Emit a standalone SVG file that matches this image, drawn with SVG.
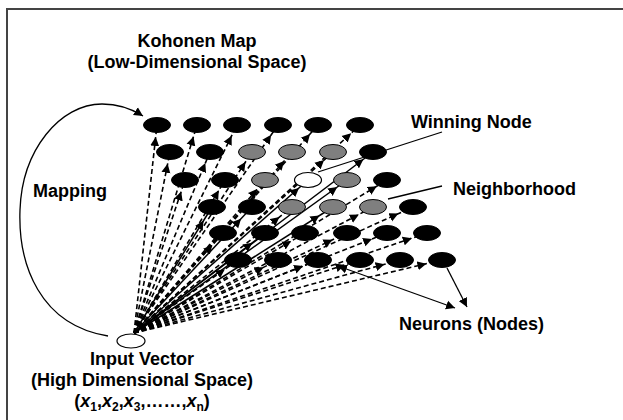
<svg xmlns="http://www.w3.org/2000/svg" width="623" height="420" viewBox="0 0 623 420">
<style>
.t{font-family:"Liberation Sans",Arial,sans-serif;font-weight:bold;font-size:18px;fill:#000}
.d{stroke:#000;stroke-width:1.6;stroke-dasharray:5,3;fill:none}
.s{stroke:#000;stroke-width:1.5;fill:none}
.p{stroke:#000;stroke-width:1.3;fill:none}
.k{fill:#000;stroke:#000;stroke-width:1}
.g{fill:#7f7f7f;stroke:#000;stroke-width:1}
.w{fill:#fff;stroke:#000;stroke-width:1.2}
</style>
<defs>
<marker id="a" viewBox="0 0 22 10" refX="21" refY="5" markerWidth="22" markerHeight="10" markerUnits="userSpaceOnUse" orient="auto"><path d="M0,0.5 L9,5 L0,9.5 z" fill="#000"/></marker>
<marker id="b" viewBox="0 0 26 10" refX="25" refY="5" markerWidth="26" markerHeight="10" markerUnits="userSpaceOnUse" orient="auto"><path d="M0,0.5 L9,5 L0,9.5 z" fill="#000"/></marker>
<marker id="tip" viewBox="0 0 10 10" refX="9" refY="5" markerWidth="10" markerHeight="10" markerUnits="userSpaceOnUse" orient="auto-start-reverse"><path d="M0,0.5 L9,5 L0,9.5 z" fill="#000"/></marker>
</defs>
<rect x="7" y="9" width="640" height="440" fill="#fff" stroke="#444" stroke-width="2"/>

<g id="connectors">
<g marker-end="url(#a)">
<path class="d" d="M134,333 L157,125"/><path class="d" d="M134,333 L197,125"/><path class="d" d="M134,333 L237,125"/><path class="d" d="M134,333 L278,125"/><path class="d" d="M134,333 L318,125"/><path class="d" d="M134,333 L360,125"/>
<path class="d" d="M134,333 L170,152"/><path class="d" d="M134,333 L210,152"/><path class="d" d="M134,333 L252,152"/><path class="d" d="M134,333 L292,152"/><path class="d" d="M134,333 L333,152"/><path class="s" d="M134,333 L373,152"/>
<path class="d" d="M134,333 L185,180"/><path class="d" d="M134,333 L225,180"/><path class="d" d="M134,333 L265,180"/><path class="s" d="M134,333 L308,180"/><path class="s" d="M134,333 L347,180"/><path class="d" d="M134,333 L387,180"/>
</g>
<g marker-end="url(#b)">
<path class="s" d="M134,333 L212,207"/><path class="s" d="M134,333 L252,207"/><path class="d" d="M134,333 L292,207"/><path class="s" d="M134,333 L333,207"/><path class="d" d="M134,333 L373,207"/><path class="d" d="M134,333 L413,207"/>
<path class="d" d="M134,333 L223,233"/><path class="s" d="M134,333 L265,233"/><path class="d" d="M134,333 L305,233"/><path class="d" d="M134,333 L347,233"/><path class="d" d="M134,333 L387,233"/><path class="d" d="M134,333 L427,233"/>
<path class="d" d="M134,333 L238,260"/><path class="d" d="M134,333 L278,260"/><path class="d" d="M134,333 L318,260"/><path class="d" d="M134,333 L360,260"/><path class="d" d="M134,333 L400,260"/><path class="d" d="M134,333 L442,260"/>
</g>
<path class="p" d="M108,336 C40,325 18,265 20,210 C22,150 60,104 102,104 C118,104 132,109 143,116" marker-end="url(#tip)"/>
<path class="p" d="M442,132 L318,172"/>
<path class="p" d="M388,199 L442,186"/>
<path class="p" d="M338,266 L455,308" marker-start="url(#tip)" marker-end="url(#tip)"/>
<path class="p" d="M447,268 L467,307" marker-end="url(#tip)"/>
</g>

<g id="nodes">
<g id="n11"><ellipse class="k" cx="157" cy="125" rx="13.5" ry="7.5"/></g>
<g id="n12"><ellipse class="k" cx="197" cy="125" rx="13.5" ry="7.5"/></g>
<g id="n13"><ellipse class="k" cx="237" cy="125" rx="13.5" ry="7.5"/></g>
<g id="n14"><ellipse class="k" cx="278" cy="125" rx="13.5" ry="7.5"/></g>
<g id="n15"><ellipse class="k" cx="318" cy="125" rx="13.5" ry="7.5"/></g>
<g id="n16"><ellipse class="k" cx="360" cy="125" rx="13.5" ry="7.5"/></g>
<g id="n21"><ellipse class="k" cx="170" cy="152" rx="13.5" ry="7.5"/></g>
<g id="n22"><ellipse class="k" cx="210" cy="152" rx="13.5" ry="7.5"/></g>
<g id="n23"><ellipse class="g" cx="252" cy="152" rx="13.5" ry="7.5"/></g>
<g id="n24"><ellipse class="g" cx="292" cy="152" rx="13.5" ry="7.5"/></g>
<g id="n25"><ellipse class="g" cx="333" cy="152" rx="13.5" ry="7.5"/></g>
<g id="n26"><ellipse class="k" cx="373" cy="152" rx="13.5" ry="7.5"/></g>
<g id="n31"><ellipse class="k" cx="185" cy="180" rx="13.5" ry="7.5"/></g>
<g id="n32"><ellipse class="k" cx="225" cy="180" rx="13.5" ry="7.5"/></g>
<g id="n33"><ellipse class="g" cx="265" cy="180" rx="13.5" ry="7.5"/></g>
<g id="winning-node"><ellipse class="w" cx="308" cy="180" rx="13.5" ry="7.5"/></g>
<g id="n35"><ellipse class="g" cx="347" cy="180" rx="13.5" ry="7.5"/></g>
<g id="n36"><ellipse class="k" cx="387" cy="180" rx="13.5" ry="7.5"/></g>
<g id="n41"><ellipse class="k" cx="212" cy="207" rx="13.5" ry="7.5"/></g>
<g id="n42"><ellipse class="k" cx="252" cy="207" rx="13.5" ry="7.5"/></g>
<g id="n43"><ellipse class="g" cx="292" cy="207" rx="13.5" ry="7.5"/></g>
<g id="n44"><ellipse class="g" cx="333" cy="207" rx="13.5" ry="7.5"/></g>
<g id="n45"><ellipse class="g" cx="373" cy="207" rx="13.5" ry="7.5"/></g>
<g id="n46"><ellipse class="k" cx="413" cy="207" rx="13.5" ry="7.5"/></g>
<g id="n51"><ellipse class="k" cx="223" cy="233" rx="13.5" ry="7.5"/></g>
<g id="n52"><ellipse class="k" cx="265" cy="233" rx="13.5" ry="7.5"/></g>
<g id="n53"><ellipse class="k" cx="305" cy="233" rx="13.5" ry="7.5"/></g>
<g id="n54"><ellipse class="k" cx="347" cy="233" rx="13.5" ry="7.5"/></g>
<g id="n55"><ellipse class="k" cx="387" cy="233" rx="13.5" ry="7.5"/></g>
<g id="n56"><ellipse class="k" cx="427" cy="233" rx="13.5" ry="7.5"/></g>
<g id="n61"><ellipse class="k" cx="238" cy="260" rx="13.5" ry="7.5"/></g>
<g id="n62"><ellipse class="k" cx="278" cy="260" rx="13.5" ry="7.5"/></g>
<g id="n63"><ellipse class="k" cx="318" cy="260" rx="13.5" ry="7.5"/></g>
<g id="n64"><ellipse class="k" cx="360" cy="260" rx="13.5" ry="7.5"/></g>
<g id="n65"><ellipse class="k" cx="400" cy="260" rx="13.5" ry="7.5"/></g>
<g id="n66"><ellipse class="k" cx="442" cy="260" rx="13.5" ry="7.5"/></g>
<g id="input-vector"><ellipse class="w" cx="131" cy="341" rx="14" ry="7"/></g>
</g>

<g id="labels">
<text class="t" x="197" y="47" text-anchor="middle">Kohonen Map</text>
<text class="t" x="197" y="68" text-anchor="middle">(Low-Dimensional Space)</text>
<text class="t" x="33" y="197">Mapping</text>
<text class="t" x="411" y="128">Winning Node</text>
<text class="t" x="453" y="195">Neighborhood</text>
<text class="t" x="399" y="330">Neurons (Nodes)</text>
<text class="t" x="142" y="365" text-anchor="middle">Input Vector</text>
<text class="t" x="142" y="386" text-anchor="middle">(High Dimensional Space)</text>
<text class="t" x="142" y="407" text-anchor="middle">(<tspan font-style="italic">x</tspan><tspan font-size="12" dy="4">1</tspan><tspan dy="-4">,</tspan><tspan font-style="italic">x</tspan><tspan font-size="12" dy="4">2</tspan><tspan dy="-4">,</tspan><tspan font-style="italic">x</tspan><tspan font-size="12" dy="4">3</tspan><tspan dy="-4">,……,</tspan><tspan font-style="italic">x</tspan><tspan font-size="12" dy="4">n</tspan><tspan dy="-4">)</tspan></text>
</g>
</svg>
